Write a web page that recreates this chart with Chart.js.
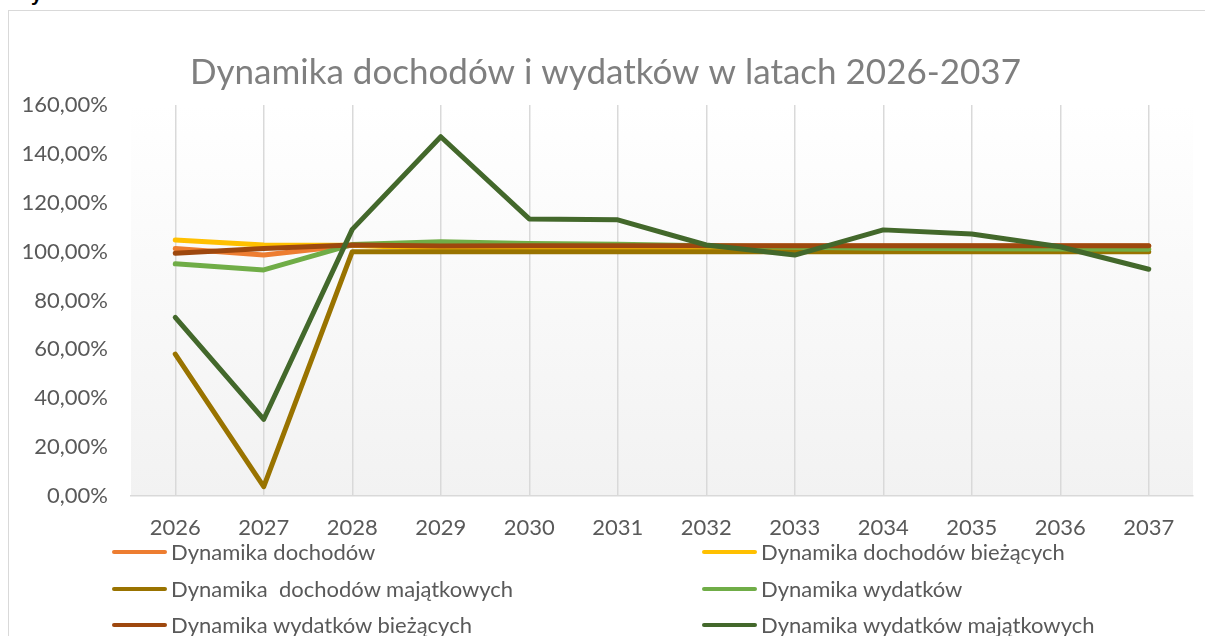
<!DOCTYPE html>
<html><head><meta charset="utf-8">
<script src="https://cdn.jsdelivr.net/npm/chart.js@4/dist/chart.umd.min.js"></script>
<style>
html,body{margin:0;padding:0;background:#fff;overflow:hidden;}
body{width:1205px;height:636px;position:relative;font-family:Lato,'Open Sans',sans-serif;}
#frame{position:absolute;left:8px;top:10px;width:1230px;height:660px;border:1px solid #D9D9D9;box-sizing:border-box;}
#c{position:absolute;left:0;top:0;}
#legend{position:absolute;left:0;top:0;width:1205px;height:636px;}
.li{position:absolute;height:26px;display:flex;align-items:center;color:#595959;font-size:22px;white-space:pre;line-height:26px;}
.li i{display:inline-block;width:55px;height:4px;border-radius:2px;margin-right:4px;}
#frag{position:absolute;left:31px;top:-17px;font:bold 20px 'Liberation Sans',sans-serif;color:#000;}
</style></head>
<body>
<div id="frag">y</div>
<div id="frame"></div>
<canvas id="c" width="1205" height="636"></canvas>
<div id="legend"></div>
<script>
const years = ['2026','2027','2028','2029','2030','2031','2032','2033','2034','2035','2036','2037'];
const dochody           = [101.3, 98.6, 102.6, 102.3, 102.3, 102.3, 102.3, 102.3, 102.3, 102.3, 102.3, 102.3];
const dochodyBiezace    = [104.8, 102.7, 102.6, 101.2, 101.1, 101.1, 101.1, 101.0, 101.0, 101.0, 101.0, 101.0];
const dochodyMajatkowe  = [58.1, 3.8, 100.0, 100.0, 100.0, 100.0, 100.0, 100.0, 100.0, 100.0, 100.0, 100.0];
const wydatki           = [95.0, 92.5, 102.9, 104.0, 103.3, 103.0, 102.4, 101.8, 101.4, 101.2, 101.1, 101.0];
const wydatkiBiezace    = [99.3, 101.3, 102.7, 102.3, 102.4, 102.4, 102.4, 102.4, 102.4, 102.4, 102.4, 102.4];
const wydatkiMajatkowe  = [73.1, 31.4, 109.1, 147.0, 113.4, 113.0, 102.7, 98.6, 108.9, 107.2, 102.0, 92.8];
const seriesNames = ['Dynamika dochodów','Dynamika dochodów bieżących','Dynamika  dochodów majątkowych','Dynamika wydatków','Dynamika wydatków bieżących','Dynamika wydatków majątkowych'];
const titleText = 'Dynamika dochodów i wydatków w latach 2026-2037';
const seriesData = [dochody, dochodyBiezace, dochodyMajatkowe, wydatki, wydatkiBiezace, wydatkiMajatkowe];
const seriesColors = ['#ED7D31','#FFC000','#997300','#70AD47','#9E480E','#43682B'];

const FONT = 'Lato';
const plotBg = {id:'plotBg', beforeDraw(chart){
  const {ctx, chartArea:a} = chart;
  const g = ctx.createLinearGradient(0, a.top, 0, a.bottom);
  g.addColorStop(0, '#FFFFFF'); g.addColorStop(1, '#F2F2F2');
  ctx.save(); ctx.fillStyle = g; ctx.fillRect(a.left, a.top, a.right - a.left, a.bottom - a.top); ctx.restore();
}};

new Chart(document.getElementById('c'), {
  type: 'line',
  data: {
    labels: years,
    datasets: seriesData.map((d, i) => ({
      label: seriesNames[i], data: d, borderColor: seriesColors[i], backgroundColor: seriesColors[i],
      borderWidth: 5, pointRadius: 0, tension: 0, borderJoinStyle: 'round', borderCapStyle: 'round',
      order: seriesData.length - i, fill: false
    }))
  },
  options: {
    responsive: false, animation: false, devicePixelRatio: 1,
    layout: {padding: {left: 18, right: 12, top: 0, bottom: 0}},
    plugins: {
      legend: {display: false}, tooltip: {enabled: false},
      title: {display: true, text: titleText, color: '#7F7F7F',
        font: {family: FONT, size: 35, weight: 'normal', lineHeight: 1.2}, padding: {top: 52, bottom: 11}}
    },
    scales: {
      x: {
        offset: true,
        grid: {display: true, offset: false, color: '#D9D9D9', lineWidth: 1.5, drawTicks: false},
        border: {display: true, color: '#D9D9D9', width: 1.5},
        ticks: {color: '#595959', font: {family: FONT, size: 22}, padding: 19, maxRotation: 0, autoSkip: false},
        afterFit(s){ s.height = 140; }
      },
      y: {
        min: 0, max: 160,
        grid: {display: false, drawTicks: false},
        border: {display: false},
        ticks: {stepSize: 20, color: '#595959', font: {family: FONT, size: 22}, padding: 23,
          callback: v => v.toFixed(2).replace('.', ',') + '%'},
        afterFit(s){ s.width = 113; }
      }
    }
  },
  plugins: [plotBg]
});

const legendPos = [[112,552],[702,552],[112,589],[702,589],[112,625],[702,625]];
const leg = document.getElementById('legend');
seriesNames.forEach((n, i) => {
  const el = document.createElement('div');
  el.className = 'li';
  el.style.left = legendPos[i][0] + 'px';
  el.style.top = (legendPos[i][1] - 13) + 'px';
  el.innerHTML = '<i style="background:' + seriesColors[i] + '"></i><span></span>';
  el.querySelector('span').textContent = n;
  leg.appendChild(el);
});
</script>
</body></html>
